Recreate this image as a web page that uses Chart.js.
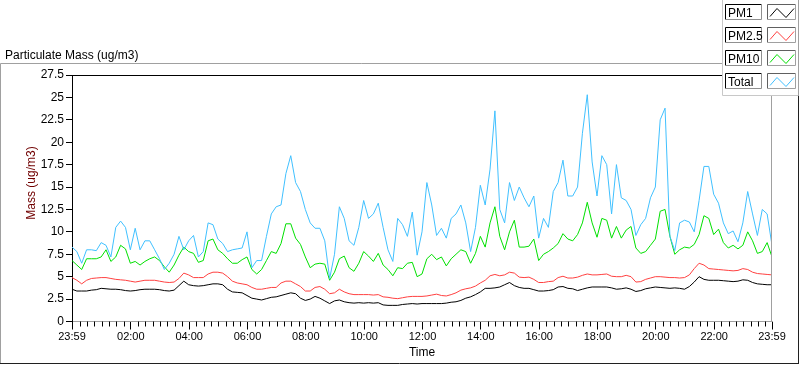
<!DOCTYPE html>
<html>
<head>
<meta charset="utf-8">
<script src="https://cdn.jsdelivr.net/npm/chart.js@4.4.1/dist/chart.umd.min.js"></script>
<style>
html, body { margin: 0; padding: 0; background: #fff; }
canvas { display: block; }
</style>
</head>
<body>
<canvas id="pmChart" width="800" height="365"></canvas>
<script>
// one sample every 10 minutes, starting at 23:59
const STEP_MIN = 10;

const pm1 = [
	3.6, 3.4, 3.4, 3.4, 3.5, 3.55, 3.7, 3.65, 3.6, 3.6,
	3.55, 3.45, 3.4, 3.45, 3.55, 3.6, 3.6, 3.6, 3.55, 3.45,
	3.4, 3.5, 4.0, 4.5, 4.1, 4.0, 3.95, 4.0, 4.1, 4.2,
	4.2, 4.1, 3.6, 3.3, 3.25, 3.2, 2.9, 2.6, 2.5, 2.4,
	2.55, 2.7, 2.75, 2.9, 3.05, 3.2, 3.1, 2.6, 2.35, 2.5,
	2.8, 2.6, 2.3, 2.0, 2.3, 2.4, 2.2, 2.1, 2.05, 2.1,
	2.05, 2.1, 2.05, 2.1, 1.85, 1.8, 1.8, 1.8, 1.9, 1.95,
	2.0, 1.95, 2.0, 2.0, 2.0, 2.0, 2.0, 2.05, 2.15, 2.2,
	2.35, 2.6, 2.75, 3.0, 3.3, 3.7, 3.7, 3.75, 3.85, 4.1,
	4.35, 4.0, 3.8, 3.7, 3.7, 3.55, 3.4, 3.4, 3.45, 3.55,
	3.85, 3.9, 3.7, 3.65, 3.45, 3.6, 3.75, 3.85, 3.85, 3.85,
	3.85, 3.75, 3.6, 3.65, 3.75, 3.6, 3.35, 3.45, 3.65, 3.75,
	3.85, 3.8, 3.75, 3.7, 3.75, 3.7, 3.6, 3.9, 4.4, 5.0,
	4.7, 4.6, 4.6, 4.6, 4.55, 4.5, 4.45, 4.5, 4.65, 4.6,
	4.35, 4.2, 4.15, 4.1, 4.1
];

const pm25 = [
	4.9, 4.6, 4.2, 4.6, 4.8, 4.85, 4.9, 4.9, 4.8, 4.7,
	4.65, 4.6, 4.5, 4.4, 4.5, 4.6, 4.6, 4.6, 4.5, 4.4,
	4.35, 4.4, 4.8, 5.4, 5.2, 4.9, 4.9, 4.9, 5.3, 5.5,
	5.5, 5.4, 5.0, 4.5, 4.3, 4.2, 4.1, 3.8, 3.6, 3.6,
	3.7, 3.8, 3.8, 4.3, 4.5, 4.5, 4.2, 3.9, 3.4, 3.4,
	3.8, 3.9, 3.6, 3.1, 3.2, 3.6, 3.3, 3.1, 3.0, 3.0,
	3.0, 3.0, 2.95, 3.0, 2.75, 2.7, 2.6, 2.55, 2.65, 2.75,
	2.8, 2.8, 2.8, 2.85, 2.95, 3.05, 2.9, 2.85, 3.0, 3.2,
	3.5, 3.65, 3.75, 3.95, 4.3, 4.6, 5.1, 5.25, 5.1, 5.2,
	5.5, 5.4, 4.95, 4.9, 4.95, 4.7, 4.35, 4.35, 4.45, 4.5,
	4.9, 5.05, 4.85, 4.85, 4.95, 5.15, 5.3, 5.2, 5.2, 5.25,
	5.3, 5.05, 5.0, 5.0, 5.15, 5.0, 4.4, 4.45, 4.7, 4.85,
	5.0, 5.0, 4.95, 4.9, 4.9, 4.85, 4.9, 5.2, 5.9, 6.5,
	6.3, 5.9, 5.85, 5.8, 5.75, 5.7, 5.65, 5.7, 5.9, 5.8,
	5.5, 5.35, 5.3, 5.25, 5.2
];

const pm10 = [
	6.8, 6.3, 5.8, 7.0, 7.0, 7.0, 7.2, 8.0, 6.7, 7.2,
	8.5, 8.1, 6.5, 6.7, 6.3, 6.7, 7.0, 7.2, 6.8, 6.1,
	5.5, 6.3, 7.4, 8.3, 7.8, 7.6, 6.6, 6.8, 9.0, 9.2,
	8.0, 7.6, 7.0, 6.5, 6.5, 6.9, 7.2, 5.8, 5.3, 5.8,
	6.8, 7.8, 7.6, 8.7, 10.9, 10.9, 9.3, 8.6, 7.2, 6.0,
	6.4, 6.5, 6.4, 4.6, 5.5, 7.0, 7.3, 6.0, 5.6, 6.5,
	7.8, 7.3, 6.7, 7.6, 6.3, 5.8, 5.1, 6.0, 5.9, 6.5,
	6.6, 5.0, 5.3, 7.0, 7.5, 6.9, 7.2, 6.2, 7.0, 7.5,
	8.0, 7.8, 6.5, 7.6, 9.5, 8.3, 11.0, 12.8, 9.5, 8.0,
	10.0, 11.3, 8.3, 8.3, 8.4, 9.2, 6.8, 7.5, 7.8, 8.2,
	8.7, 9.8, 9.2, 9.0, 9.7, 11.0, 13.3, 11.0, 9.4, 11.5,
	11.3, 9.3, 10.6, 9.3, 10.2, 10.6, 8.2, 7.6, 7.8, 8.5,
	9.2, 12.3, 12.5, 9.5, 7.5, 8.0, 8.3, 8.2, 8.6, 9.7,
	11.8, 11.5, 9.7, 10.3, 8.8, 8.2, 8.5, 8.1, 8.5, 10.0,
	9.0, 7.6, 7.8, 8.8, 7.2
];

const total = [
	8.3, 7.8, 6.5, 8.0, 8.0, 7.9, 8.8, 8.5, 7.2, 10.5,
	11.2, 10.5, 8.0, 10.4, 8.0, 9.0, 9.0, 8.0, 7.0, 5.8,
	6.5, 7.5, 9.5, 8.0, 9.0, 9.6, 7.2, 7.8, 11.0, 10.8,
	9.2, 8.7, 7.8, 8.0, 8.1, 8.2, 10.0, 6.0, 6.8, 6.8,
	9.5, 12.0, 12.8, 13.0, 16.5, 18.5, 15.5, 14.5, 12.5, 11.0,
	10.4, 10.4, 9.0, 4.8, 7.5, 12.8, 11.5, 9.0, 8.5, 10.5,
	13.5, 11.5, 12.0, 13.2, 10.5, 8.0, 6.7, 11.5, 10.8, 9.5,
	12.2, 7.4, 10.0, 15.5, 13.0, 9.6, 10.4, 9.3, 11.5, 12.0,
	13.0, 11.0, 7.8, 10.5, 15.2, 13.0, 17.0, 23.5, 12.5, 11.0,
	15.5, 13.5, 15.0, 13.8, 12.8, 14.0, 9.3, 11.5, 10.5, 14.5,
	15.5, 18.0, 14.0, 14.0, 15.0, 21.0, 25.3, 17.8, 14.0, 18.5,
	17.5, 12.0, 17.5, 13.8, 13.5, 12.5, 9.6, 10.8, 11.5, 13.8,
	15.0, 22.5, 23.8, 9.5, 7.9, 11.0, 11.3, 11.1, 10.0, 13.5,
	17.3, 17.3, 14.2, 13.2, 11.0, 9.8, 10.1, 8.9, 11.0, 14.5,
	12.0, 9.6, 12.5, 12.0, 8.5
];

const seriesNames = ["PM1", "PM2.5", "PM10", "Total"];
const seriesColors = ["#000000", "#ff4040", "#00e000", "#40c0ff"];

// minutes after 23:59
const tickMinutes = [0, 121, 241, 361, 481, 601, 721, 841, 961, 1081, 1201, 1321, 1440];
const tickLabels = ["23:59", "02:00", "04:00", "06:00", "08:00", "10:00", "12:00",
	"14:00", "16:00", "18:00", "20:00", "22:00", "23:59"];
const yTicks = [0, 2.5, 5, 7.5, 10, 12.5, 15, 17.5, 20, 22.5, 25, 27.5];

const FONT = "'Liberation Sans', Arial, sans-serif";

const sampleMinutes = total.map((v, i) => i * STEP_MIN);
const toPoints = arr => arr.map((v, i) => ({ x: sampleMinutes[i], y: v }));

function seg(ctx, x1, y1, x2, y2) {
	ctx.beginPath();
	ctx.moveTo(x1, y1);
	ctx.lineTo(x2, y2);
	ctx.stroke();
}

// LabVIEW-ish frame, caption, minor ticks, y title and plot legend
const framePlugin = {
	id: "frame",
	beforeDraw(chart) {
		const ctx = chart.ctx;
		ctx.save();
		ctx.fillStyle = "#fff";
		ctx.fillRect(0, 0, chart.width, chart.height);
		ctx.lineWidth = 1;
		ctx.strokeStyle = "#a0a0a0";
		seg(ctx, 0.5, 363, 0.5, 63.5);
		seg(ctx, 0.5, 63.5, 722, 63.5);
		ctx.strokeStyle = "#202020";
		seg(ctx, 0, 363.5, 799, 363.5);
		seg(ctx, 798.5, 63.5, 798.5, 363.5);

		ctx.fillStyle = "#000";
		ctx.font = "12px " + FONT;
		ctx.textBaseline = "alphabetic";
		ctx.textAlign = "left";
		ctx.fillText("Particulate Mass (ug/m3)", 5, 59);

		ctx.save();
		ctx.translate(35, 183);
		ctx.rotate(-Math.PI / 2);
		ctx.textAlign = "center";
		ctx.fillStyle = "#700000";
		ctx.fillText("Mass (ug/m3)", 0, 0);
		ctx.restore();
		ctx.restore();
	},
	afterDraw(chart) {
		const ctx = chart.ctx;
		const area = chart.chartArea;
		const xs = chart.scales.x;
		ctx.save();
		ctx.lineWidth = 1;

		// plot border top / right
		ctx.strokeStyle = "#000";
		seg(ctx, area.left, area.top + 0.5, area.right, area.top + 0.5);
		ctx.strokeStyle = "#a0a0a0";
		seg(ctx, area.right - 0.5, area.top, area.right - 0.5, area.bottom);

		// minor ticks every 15 min
		ctx.strokeStyle = "#000";
		for (let m = 16; m < 1440; m += 15) {
			if (tickMinutes.some(t => Math.abs(t - m) < 3)) continue;
			const px = Math.round(xs.getPixelForValue(m)) + 0.5;
			seg(ctx, px, area.bottom, px, area.bottom + 5);
		}

		// legend panel
		ctx.fillStyle = "#fff";
		ctx.fillRect(722, 0, 77, 95);
		ctx.strokeStyle = "#c8c8c8";
		seg(ctx, 722.5, 0, 722.5, 95.5);
		seg(ctx, 722.5, 95.5, 798, 95.5);
		ctx.strokeStyle = "#a0a0a0";
		seg(ctx, 798.5, 0, 798.5, 96);

		ctx.font = "12px " + FONT;
		ctx.textAlign = "left";
		ctx.textBaseline = "alphabetic";
		seriesNames.forEach((name, k) => {
			const t = Math.round(4 + k * 23.1) + 0.5;
			// label box
			ctx.fillStyle = "#fff";
			ctx.fillRect(725, t, 36, 15);
			ctx.strokeStyle = "#000";
			seg(ctx, 725.5, t + 15, 725.5, t);
			seg(ctx, 725.5, t, 761.5, t);
			ctx.strokeStyle = "#909090";
			seg(ctx, 761.5, t, 761.5, t + 15);
			seg(ctx, 725.5, t + 15, 761.5, t + 15);
			ctx.fillStyle = "#000";
			ctx.fillText(name, 728, t + 12.5);
			// icon box
			ctx.strokeStyle = "#606060";
			seg(ctx, 767.5, t + 15, 767.5, t);
			seg(ctx, 767.5, t, 795.5, t);
			ctx.strokeStyle = "#a0a0a0";
			seg(ctx, 795.5, t, 795.5, t + 15);
			seg(ctx, 767.5, t + 15, 795.5, t + 15);
			ctx.strokeStyle = seriesColors[k];
			ctx.beginPath();
			ctx.moveTo(770, t + 12);
			ctx.lineTo(777, t + 4);
			ctx.lineTo(786, t + 13);
			ctx.lineTo(794, t + 4);
			ctx.stroke();
		});
		ctx.restore();
	}
};

const seriesData = [pm1, pm25, pm10, total];

new Chart(document.getElementById("pmChart"), {
	type: "line",
	data: {
		datasets: seriesNames.map((name, k) => ({
			label: name,
			data: toPoints(seriesData[k]),
			borderColor: seriesColors[k],
			borderWidth: 1,
			pointRadius: 0,
			tension: 0,
			fill: false,
			order: 3 - k
		}))
	},
	options: {
		responsive: false,
		devicePixelRatio: 1,
		animation: false,
		layout: { padding: { top: 75, right: 28, left: 0, bottom: 0 } },
		plugins: {
			legend: { display: false },
			tooltip: { enabled: false },
			title: { display: false }
		},
		scales: {
			x: {
				type: "linear",
				min: 0,
				max: 1440,
				afterBuildTicks: scale => { scale.ticks = tickMinutes.map(v => ({ value: v })); },
				afterFit: scale => { scale.height = 43.5; },
				ticks: {
					autoSkip: false,
					maxRotation: 0,
					padding: 1,
					color: "#000",
					font: { family: FONT, size: 11 },
					callback: (v, i) => tickLabels[i]
				},
				grid: { drawOnChartArea: false, drawTicks: true, tickLength: 8, tickColor: "#000" },
				border: { display: true, color: "#a0a0a0" },
				title: {
					display: true,
					text: "Time",
					color: "#000",
					font: { family: FONT, size: 12 },
					padding: { top: 0, bottom: 5 }
				}
			},
			y: {
				min: 0,
				max: 27.5,
				afterBuildTicks: scale => { scale.ticks = yTicks.map(v => ({ value: v })); },
				afterFit: scale => { scale.width = 72; },
				ticks: {
					padding: 2,
					color: "#000",
					font: { family: FONT, size: 12 },
					callback: v => String(v)
				},
				grid: { drawOnChartArea: false, drawTicks: true, tickLength: 6, tickColor: "#000" },
				border: { display: true, color: "#000" }
			}
		}
	},
	plugins: [framePlugin]
});
</script>
</body>
</html>
